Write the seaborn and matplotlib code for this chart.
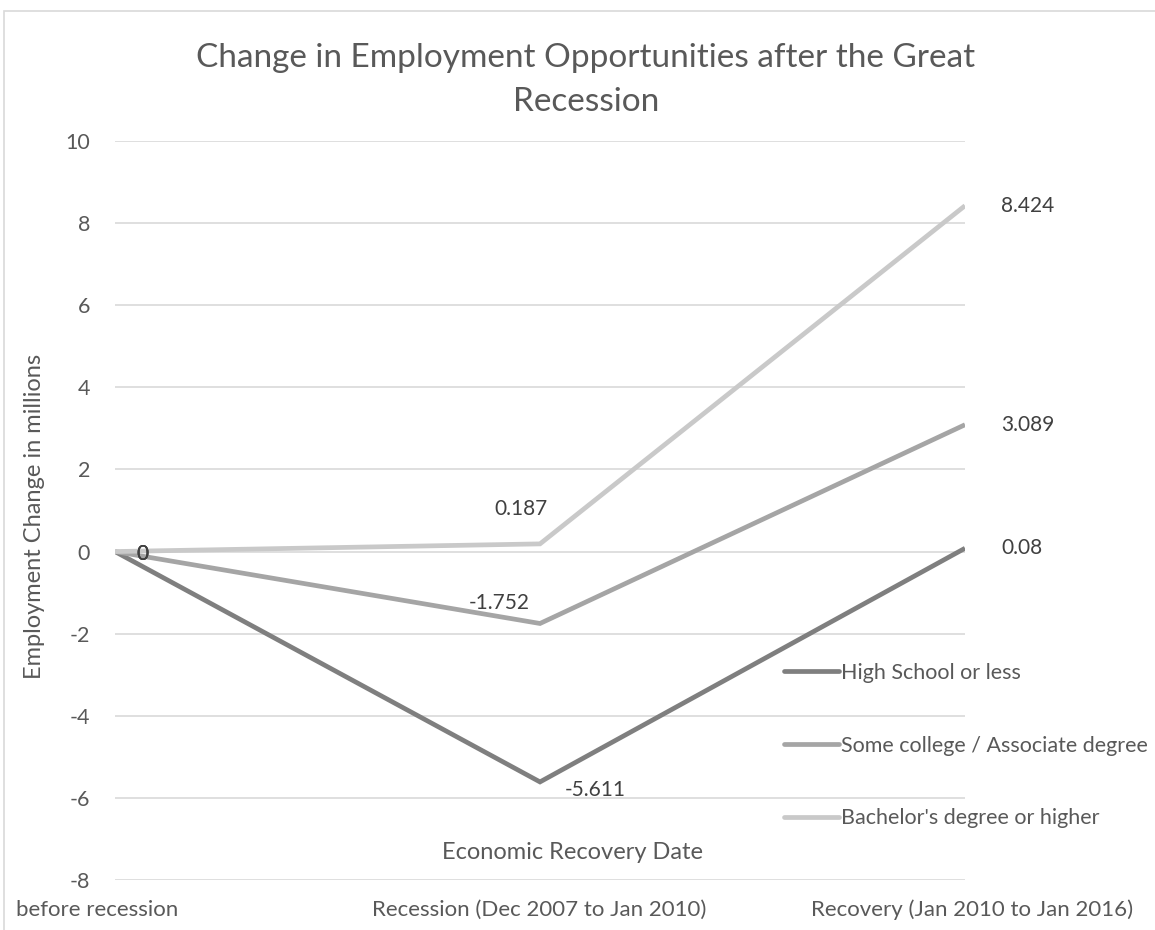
import matplotlib
matplotlib.use("Agg")
import matplotlib.pyplot as plt
import seaborn as sns
import pandas as pd
from matplotlib.patches import Rectangle
from matplotlib.lines import Line2D

categories = ["before recession", "Recession (Dec 2007 to Jan 2010)", "Recovery (Jan 2010 to Jan 2016)"]
series_names = ["High School or less", "Some college / Associate degree", "Bachelor's degree or higher"]
high_school = [0, -5.611, 0.08]
some_college = [0, -1.752, 3.089]
bachelors = [0, 0.187, 8.424]
y_ticks = [-8, -6, -4, -2, 0, 2, 4, 6, 8, 10]

colors = ["#7f7f7f", "#a5a5a5", "#c9c9c9"]
text_gray = "#595959"
label_gray = "#404040"
W, H = 1155, 930

sns.set_theme(style="white")
plt.rcParams["font.family"] = ["Lato", "DejaVu Sans"]

rows = []
for name, vals in zip(series_names, [high_school, some_college, bachelors]):
    for i, v in enumerate(vals):
        rows.append({"pos": i, "value": v, "series": name})
df = pd.DataFrame(rows)

fig = plt.figure(figsize=(W / 100, H / 100), dpi=100)
ax = fig.add_axes([115 / W, 1 - 880 / H, 850 / W, 739 / H])

sns.lineplot(data=df, x="pos", y="value", hue="series", hue_order=series_names,
             palette=colors, linewidth=3.4, ax=ax, legend=False, sort=False)
for ln in ax.lines:
    ln.set_solid_joinstyle("miter")
    ln.set_solid_capstyle("butt")

ax.set_xlim(0, 2)
ax.set_ylim(-8, 10)
ax.set_yticks(y_ticks)
ax.set_yticklabels([str(t) for t in y_ticks], fontsize=15.5, color=text_gray)
ax.yaxis.grid(True, color="#d9d9d9", linewidth=1.2)
ax.set_axisbelow(True)
for s in ax.spines.values():
    s.set_visible(False)
ax.tick_params(axis="y", length=0, pad=18)
ax.set_xticks([])
ax.set_xlabel("")
ax.set_ylabel("")

# y axis title
fig.text(35 / W, 1 - 516 / H, "Employment Change in millions", rotation=90,
         ha="center", va="center", fontsize=17, color=text_gray)

# category labels below the plot
cat_x = [97, 539, 972]
for cx, lab in zip(cat_x, categories):
    fig.text(cx / W, 1 - 910 / H, lab, ha="center", va="center", fontsize=16, color=text_gray)

# x axis title sitting inside the plot area
fig.text(572 / W, 1 - 852 / H, "Economic Recovery Date", ha="center", va="center",
         fontsize=17, color=text_gray)

fig.text(586 / W, 1 - 80 / H, "Change in Employment Opportunities after the Great\nRecession",
         ha="center", va="center", fontsize=24, color=text_gray, linespacing=1.6)

# data labels
lab_kw = dict(fontsize=15, color=label_gray, textcoords="offset points", va="center")
for _ in range(3):
    ax.annotate("0", (0, 0), xytext=(20, -2), ha="center", **lab_kw)
ax.annotate(f"{high_school[1]:g}", (1, high_school[1]), xytext=(40, -6), ha="center", **lab_kw)
ax.annotate(f"{high_school[2]:g}", (2, high_school[2]), xytext=(26, 0), ha="left", **lab_kw)
ax.annotate(f"{some_college[1]:g}", (1, some_college[1]), xytext=(-29, 15), ha="center", **lab_kw)
ax.annotate(f"{some_college[2]:g}", (2, some_college[2]), xytext=(26, 0), ha="left", **lab_kw)
ax.annotate(f"{bachelors[1]:g}", (1, bachelors[1]), xytext=(-14, 25), ha="center", **lab_kw)
ax.annotate(f"{bachelors[2]:g}", (2, bachelors[2]), xytext=(26, 0), ha="left", **lab_kw)

# legend at the right edge
handles = [Line2D([0], [0], color=c, linewidth=3.4) for c in colors]
fig.legend(handles, series_names, loc="upper left", bbox_to_anchor=(784 / W, 1 - 663 / H),
           frameon=False, fontsize=15.5, handlelength=2.55, handletextpad=0.1,
           labelspacing=2.45, labelcolor=text_gray, borderaxespad=0, borderpad=0)

# outer chart border
fig.patches.append(Rectangle((4 / W, -0.1), 1.2, (1 - 11 / H) + 0.1, transform=fig.transFigure,
                             fill=False, edgecolor="#d9d9d9", linewidth=1.2))

fig.savefig("out.png", dpi=100)
